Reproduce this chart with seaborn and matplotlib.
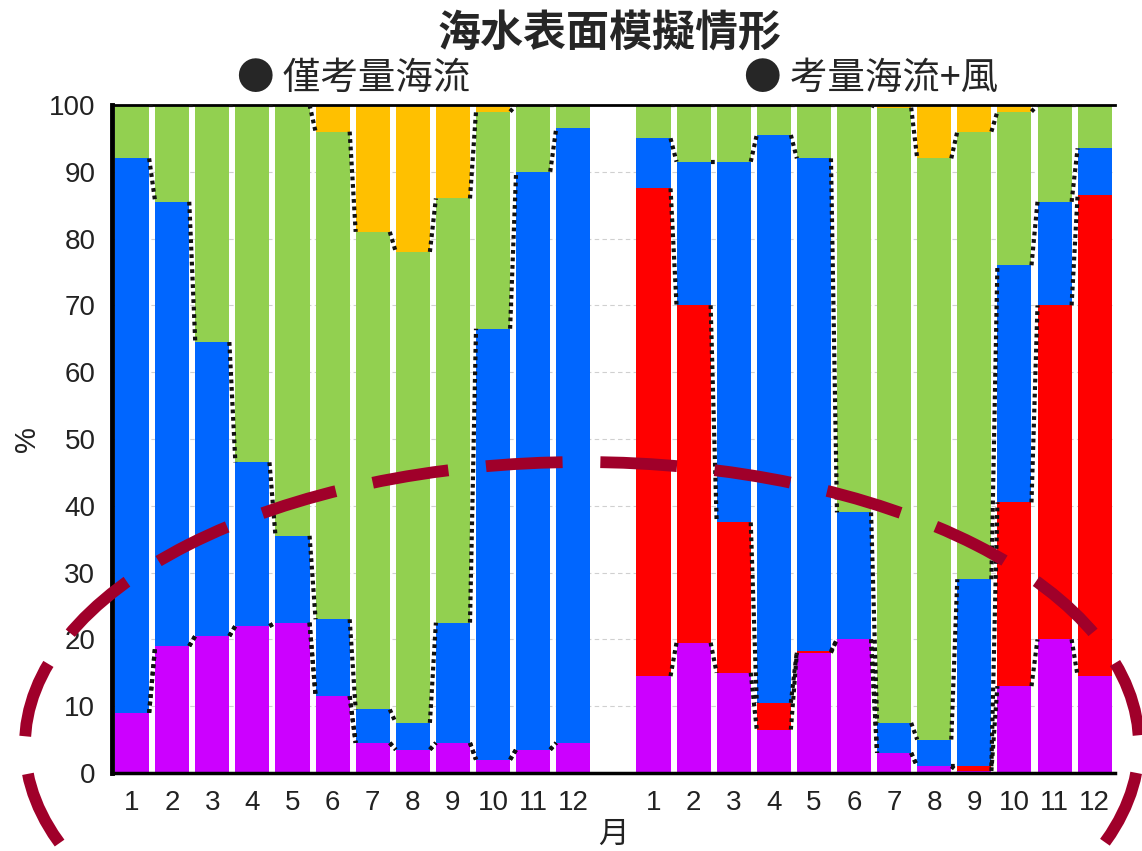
import numpy as np
import pandas as pd
import matplotlib.pyplot as plt
import seaborn as sns
from matplotlib.patches import Ellipse

# Month labels and the two scenarios
months = [str(m) for m in range(1, 13)]
groups = ['僅考量海流', '考量海流+風']

# Scenario 1: currents only (% share per month, bottom -> top)
cur_purple = [9, 19, 20.5, 22, 22.5, 11.5, 4.5, 3.5, 4.5, 2, 3.5, 4.5]
cur_red = [0, 0, 0, 0, 0, 0, 0, 0, 0, 0, 0, 0]
cur_blue = [83, 66.5, 44, 24.5, 13, 11.5, 5, 4, 18, 64.5, 86.5, 92]
cur_green = [8, 14.5, 35.5, 53.5, 64.5, 73, 71.5, 70.5, 63.5, 32.5, 10, 3.5]
cur_orange = [0, 0, 0, 0, 0, 4, 19, 22, 14, 1, 0, 0]

# Scenario 2: currents + wind
wind_purple = [14.5, 19.5, 15, 6.5, 18, 20, 3, 1, 0.3, 13, 20, 14.5]
wind_red = [73, 50.5, 22.5, 4, 0.2, 0, 0, 0, 0.7, 27.5, 50, 72]
wind_blue = [7.5, 21.5, 54, 85, 73.8, 19, 4.5, 4, 28, 35.5, 15.5, 7]
wind_green = [5, 8.5, 8.5, 4.5, 8, 61, 92.1, 87, 67, 23, 14.5, 6.5]
wind_orange = [0, 0, 0, 0, 0, 0, 0.4, 8, 4, 1, 0, 0]

layers = ['purple', 'red', 'blue', 'green', 'orange']
layer_colors = ['#CC00FF', '#FF0000', '#0066FF', '#92D050', '#FFC000']

# bar slots: 12 months, one empty slot, 12 months
positions = {groups[0]: np.arange(12), groups[1]: np.arange(13, 25)}
series = {
    groups[0]: [cur_purple, cur_red, cur_blue, cur_green, cur_orange],
    groups[1]: [wind_purple, wind_red, wind_blue, wind_green, wind_orange],
}

rows = []
for g in groups:
    tops = np.cumsum(np.array(series[g]), axis=0)
    for k, name in enumerate(layers):
        for i, m in enumerate(months):
            rows.append({'group': g, 'month': m, 'pos': positions[g][i],
                         'layer': name, 'value': series[g][k][i], 'top': tops[k][i]})
df = pd.DataFrame(rows)

sns.set_theme(style='white')
plt.rcParams['font.family'] = ['Liberation Sans', 'Noto Sans CJK TC', 'DejaVu Sans']
cjk = ['Noto Sans CJK TC', 'DejaVu Sans']

fig = plt.figure(figsize=(11.42, 8.51), dpi=100)
ax = fig.add_axes([0.0981, 0.0917, 0.878, 0.785])

bar_w = 0.85
# draw cumulative tops from the highest layer down so each layer shows as a stacked segment
for name, col in zip(layers[::-1], layer_colors[::-1]):
    sub = df[df['layer'] == name]
    sns.barplot(data=sub, x='pos', y='top', native_scale=True, color=col,
                saturation=1, width=bar_w, linewidth=0, errorbar=None, ax=ax, zorder=2)

# dotted series lines between neighbouring bars
for g in groups:
    p = positions[g]
    for name in layers[:-1]:
        t = df[(df['group'] == g) & (df['layer'] == name)]['top'].values
        for i in range(len(p) - 1):
            ax.plot([p[i] + bar_w / 2, p[i + 1] - bar_w / 2], [t[i], t[i + 1]],
                    color='#111111', lw=3, ls=(0, (0.9, 0.9)), zorder=3)

ax.set_xlim(-0.5, 24.5)
ax.set_ylim(0, 100)
ax.set_yticks(np.arange(0, 101, 10))
ax.set_xticks(np.concatenate([positions[groups[0]], positions[groups[1]]]), months + months)
ax.set_xticks(np.arange(-0.5, 25, 1), minor=True)
ax.tick_params(axis='x', which='major', length=0, pad=12, labelsize=20, colors='#222222')
ax.tick_params(axis='x', which='minor', length=6, width=2.5, color='black', direction='out')
ax.tick_params(axis='y', length=6, width=1.5, color='black', direction='out',
               labelsize=20, labelcolor='#222222', pad=6)
ax.grid(axis='y', color='#d0d0d0', lw=0.8, ls=(0, (4, 3)), zorder=0)
ax.set_axisbelow(True)

for side in ['left', 'bottom', 'top']:
    ax.spines[side].set_color('black')
ax.spines['left'].set_linewidth(3.5)
ax.spines['bottom'].set_linewidth(2.5)
ax.spines['top'].set_linewidth(2)
ax.spines['right'].set_visible(False)

ax.set_ylabel('%', fontsize=21, labelpad=6, color='#222222')
ax.set_xlabel('月', fontsize=22, labelpad=2, family=cjk, color='#222222')

fig.text(0.534, 0.962, '海水表面模擬情形', ha='center', va='center',
         fontsize=31, fontweight='bold', family=cjk)
fig.text(0.310, 0.908, '● 僅考量海流', ha='center', va='center', fontsize=27, family=cjk)
fig.text(0.763, 0.908, '● 考量海流+風', ha='center', va='center', fontsize=27, family=cjk)

# big dashed highlight ellipse over the lower half of the chart
ring = Ellipse((0.5096, 0.1246), 0.9755, 0.665, transform=fig.transFigure, fill=False,
               edgecolor='#A0002A', lw=8.5, ls=(0, (6.5, 3.2)), zorder=10, clip_on=False)
fig.add_artist(ring)

fig.savefig('out.png', dpi=100)
